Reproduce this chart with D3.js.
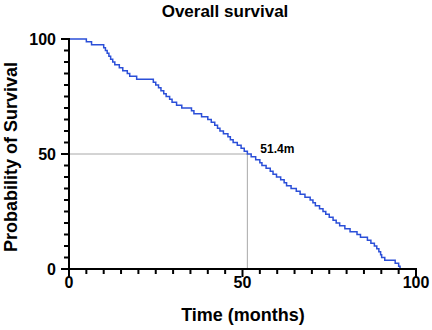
<!DOCTYPE html>
<html>
<head>
<meta charset="utf-8">
<script src="https://cdn.jsdelivr.net/npm/d3@7"></script>
<style>
  body { margin: 0; background: #fff; }
  svg text { font-family: "Liberation Sans", Arial, sans-serif; font-weight: bold; fill: #000; }
</style>
</head>
<body>
<div id="main"></div>
<script>
const w = 432;
const h = 330;

// Kaplan-Meier steps: time (months) and survival (%) after each drop
const times = [0, 5.0, 6.5, 10.0, 10.5, 11.0, 11.5, 12.0, 12.6, 13.2, 14.5, 15.5, 16.8, 17.5, 19.5,
  24.3, 25.0, 25.8, 26.5, 27.3, 28.0, 29.0, 29.7, 31.0, 32.5, 35.3, 36.0, 38.2, 40.0, 41.0,
  42.0, 42.8, 43.5, 44.5, 45.8, 46.5, 47.3, 48.5, 49.6, 50.5, 51.4, 52.5, 53.8, 55.0, 55.6,
  56.8, 58.0, 58.8, 59.8, 61.0, 62.0, 62.7, 64.0, 65.5, 66.6, 68.0, 69.5, 70.3, 71.0, 72.2,
  73.2, 74.0, 75.0, 76.1, 77.0, 78.0, 79.5, 81.0, 83.0, 84.0, 86.0, 87.0, 88.0, 88.7, 89.3,
  89.8, 90.1, 91.0, 94.0, 95.0, 95.4];
const survival = [100, 98.8, 97.5, 96.2, 95.0, 93.8, 92.5, 91.2, 90.0, 88.8, 87.5, 86.2, 85.0, 83.8, 82.5,
  81.2, 80.0, 78.8, 77.5, 76.2, 75.0, 73.8, 72.5, 71.2, 70.0, 68.8, 67.5, 66.2, 65.0, 63.8,
  62.5, 61.2, 60.0, 58.8, 57.5, 56.2, 55.0, 53.8, 52.5, 51.2, 50.0, 48.8, 47.5, 46.2, 45.0,
  43.8, 42.5, 41.2, 40.0, 38.8, 37.5, 36.2, 35.0, 33.8, 32.5, 31.2, 30.0, 28.8, 27.5, 26.2,
  25.0, 23.8, 22.5, 21.2, 20.0, 18.8, 17.5, 16.2, 15.0, 13.8, 12.5, 11.2, 10.0, 8.8, 7.5,
  6.2, 5.0, 3.8, 2.5, 1.2, 0];

const xTickLabels = [0, 50, 100];
const yTickLabels = [0, 50, 100];
const median = 51.4;

const svg = d3.select("#main")
  .append("svg")
  .attr("width", w)
  .attr("height", h);

const x = d3.scaleLinear().domain([0, 100]).range([69, 416]);
const y = d3.scaleLinear().domain([0, 100]).range([269, 39]);

// title
svg.append("text")
  .attr("x", 225)
  .attr("y", 17)
  .attr("text-anchor", "middle")
  .style("font-size", "17px")
  .text("Overall survival");

// median guide lines
svg.append("line")
  .attr("x1", x(0)).attr("x2", x(median))
  .attr("y1", y(50)).attr("y2", y(50))
  .attr("stroke", "#a8a8a8").attr("stroke-width", 1);
svg.append("line")
  .attr("x1", x(median)).attr("x2", x(median))
  .attr("y1", y(50)).attr("y2", y(0))
  .attr("stroke", "#a8a8a8").attr("stroke-width", 1);

// the curve
const pts = times.map((t, i) => [t, survival[i]]);
const line = d3.line()
  .x(d => x(d[0]))
  .y(d => y(d[1]))
  .curve(d3.curveStepAfter);

svg.append("path")
  .datum(pts)
  .attr("d", line)
  .attr("fill", "none")
  .attr("stroke", "#2b4fd8")
  .attr("stroke-width", 1.5);

svg.append("text")
  .attr("x", x(median) + 13)
  .attr("y", y(50) - 1)
  .style("font-size", "12px")
  .text(median + "m");

// axes
const minorTicks = d3.range(0, 101, 5);

const xAxis = svg.append("g").attr("transform", "translate(0," + y(0) + ")");
xAxis.append("line")
  .attr("x1", x(0) - 1).attr("x2", x(100) + 1)
  .attr("stroke", "#000").attr("stroke-width", 2);
xAxis.selectAll(".tick")
  .data(minorTicks)
  .enter()
  .append("line")
  .attr("x1", d => x(d)).attr("x2", d => x(d))
  .attr("y1", 0)
  .attr("y2", d => (d % 50 === 0 ? 8 : 5))
  .attr("stroke", "#000").attr("stroke-width", 2);
xAxis.selectAll("text")
  .data(xTickLabels)
  .enter()
  .append("text")
  .attr("x", d => x(d))
  .attr("y", 19)
  .attr("text-anchor", "middle")
  .style("font-size", "16px")
  .text(d => d);

const yAxis = svg.append("g").attr("transform", "translate(" + x(0) + ",0)");
yAxis.append("line")
  .attr("y1", y(100) - 1).attr("y2", y(0) + 1)
  .attr("stroke", "#000").attr("stroke-width", 2);
yAxis.selectAll(".tick")
  .data(minorTicks)
  .enter()
  .append("line")
  .attr("y1", d => y(d)).attr("y2", d => y(d))
  .attr("x1", 0)
  .attr("x2", d => (d % 50 === 0 ? -8 : -5))
  .attr("stroke", "#000").attr("stroke-width", 2);
yAxis.selectAll("text")
  .data(yTickLabels)
  .enter()
  .append("text")
  .attr("x", -13)
  .attr("y", d => y(d) + 6)
  .attr("text-anchor", "end")
  .style("font-size", "16px")
  .text(d => d);

// axis titles
svg.append("text")
  .attr("x", 243)
  .attr("y", 321)
  .attr("text-anchor", "middle")
  .style("font-size", "18px")
  .text("Time (months)");

svg.append("text")
  .attr("transform", "translate(17,157) rotate(-90)")
  .attr("text-anchor", "middle")
  .style("font-size", "18px")
  .text("Probability of Survival");
</script>
</body>
</html>
